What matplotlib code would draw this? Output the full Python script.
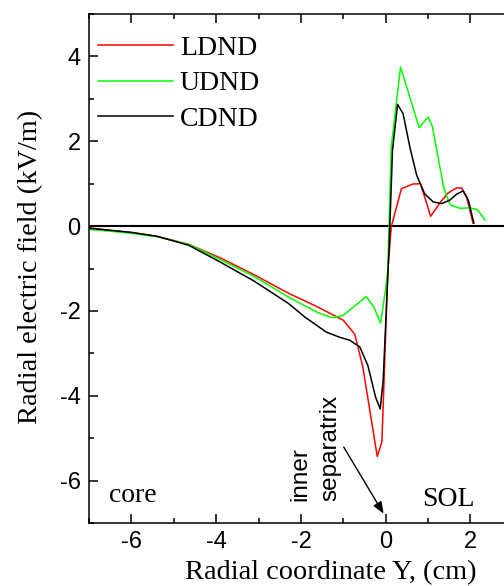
import numpy as np
import matplotlib
matplotlib.use("Agg")
import matplotlib.pyplot as plt
from matplotlib.ticker import MultipleLocator

# Radial electric field profiles (kV/m) vs radial coordinate Y (cm)
x_ldnd = [-7.0, -6.5, -6.0, -5.4, -4.65, -3.9, -3.1, -2.3, -1.6, -1.0, -0.73, -0.54,
          -0.20, -0.09, 0.05, 0.13, 0.37, 0.63, 0.82, 1.06, 1.28, 1.47, 1.67, 1.79, 1.91, 2.06]
y_ldnd = [-0.04, -0.10, -0.15, -0.24, -0.43, -0.75, -1.15, -1.58, -1.91, -2.22, -2.55, -3.32,
          -5.43, -5.09, -1.05, -0.02, 0.88, 0.99, 1.0, 0.23, 0.55, 0.78, 0.90, 0.90, 0.68, 0.07]

x_udnd = [-7.0, -6.5, -6.0, -5.4, -4.65, -3.9, -3.1, -2.3, -1.6, -1.26, -1.01, -0.46, -0.28,
          -0.12, 0.0, 0.05, 0.13, 0.35, 0.79, 1.0, 1.1, 1.37, 1.52, 1.75, 1.98, 2.16, 2.34]
y_udnd = [-0.08, -0.12, -0.17, -0.25, -0.43, -0.79, -1.19, -1.67, -2.04, -2.16, -2.11, -1.66, -1.91,
          -2.29, -1.47, -1.04, 1.86, 3.75, 2.32, 2.57, 2.35, 0.90, 0.50, 0.42, 0.43, 0.39, 0.15]

x_cdnd = [-7.0, -6.5, -6.0, -5.4, -4.65, -3.9, -3.1, -2.3, -1.9, -1.4, -1.09, -0.85, -0.61,
          -0.42, -0.24, -0.13, -0.06, 0.02, 0.08, 0.16, 0.28, 0.41, 0.57, 0.73, 0.92, 1.12,
          1.32, 1.51, 1.67, 1.83, 1.95, 2.08]
y_cdnd = [-0.05, -0.10, -0.15, -0.24, -0.45, -0.85, -1.30, -1.82, -2.15, -2.50, -2.62, -2.69, -2.85,
          -3.29, -4.03, -4.31, -3.64, -1.83, -0.50, 1.79, 2.87, 2.65, 1.86, 1.20, 0.76, 0.57,
          0.53, 0.61, 0.75, 0.83, 0.61, 0.07]

series_labels = ["LDND", "UDND", "CDND"]
series_colors = ["#ff0000", "#00ff00", "#000000"]

xticks = [-6, -4, -2, 0, 2]
yticks = [-6, -4, -2, 0, 2, 4]

SERIF = "Liberation Serif"
SANS = "Liberation Sans"
plt.rcParams["axes.unicode_minus"] = False

fig = plt.figure(figsize=(5.04, 5.86), dpi=100)
# axes runs past the right edge of the figure, as in the original crop
ax = fig.add_axes([0.1766, 0.1075, 0.841, 0.8686])

ax.plot(x_ldnd, y_ldnd, color=series_colors[0], lw=1.1, label=series_labels[0])
ax.plot(x_udnd, y_udnd, color=series_colors[1], lw=1.1, label=series_labels[1])
ax.plot(x_cdnd, y_cdnd, color=series_colors[2], lw=1.1, label=series_labels[2])
ax.axhline(0, color="black", lw=1.5, zorder=1)

ax.set_xlim(-7, 3)
ax.set_ylim(-7, 5)
ax.set_xticks(xticks)
ax.set_yticks(yticks)
ax.xaxis.set_minor_locator(MultipleLocator(1))
ax.yaxis.set_minor_locator(MultipleLocator(1))
ax.tick_params(which="both", direction="in", top=True, right=True, width=1.1)
ax.tick_params(which="major", length=6.5, pad=6, labelsize=17)
ax.tick_params(which="minor", length=3.5)
for lab in ax.get_xticklabels() + ax.get_yticklabels():
    lab.set_fontfamily(SANS)
for sp in ax.spines.values():
    sp.set_linewidth(1.1)

ax.set_xlabel("Radial coordinate Y, (cm)", fontfamily=SERIF, fontsize=20.4)
ax.xaxis.set_label_coords(0.571, -0.072)
ax.set_ylabel("Radial electric field (kV/m)", fontfamily=SERIF, fontsize=20.4)
ax.yaxis.set_label_coords(-0.108, 0.504)

ax.legend(loc="upper left", bbox_to_anchor=(0.021, 0.958), frameon=False,
          borderpad=0, borderaxespad=0, handlelength=2.7, handletextpad=0.25,
          labelspacing=0.36, prop={"family": SERIF, "size": 20})

ax.text(-6.52, -6.51, "core", fontfamily=SERIF, fontsize=20, ha="left", va="baseline")
ax.text(0.87, -6.59, "SOL", fontfamily=SERIF, fontsize=20, ha="left", va="baseline")
ax.text(-1.87, -6.47, "inner", fontfamily=SANS, fontsize=17.5, rotation=90,
        rotation_mode="anchor", ha="left", va="baseline")
ax.text(-1.16, -6.47, "separatrix", fontfamily=SANS, fontsize=17.5, rotation=90,
        rotation_mode="anchor", ha="left", va="baseline")
ax.annotate("", xy=(-0.05, -6.78), xytext=(-0.99, -5.21),
            arrowprops=dict(arrowstyle="-|>,head_length=0.5,head_width=0.2",
                            color="black", lw=1.0, mutation_scale=14,
                            shrinkA=0, shrinkB=0))

fig.savefig("out.png", dpi=100)
